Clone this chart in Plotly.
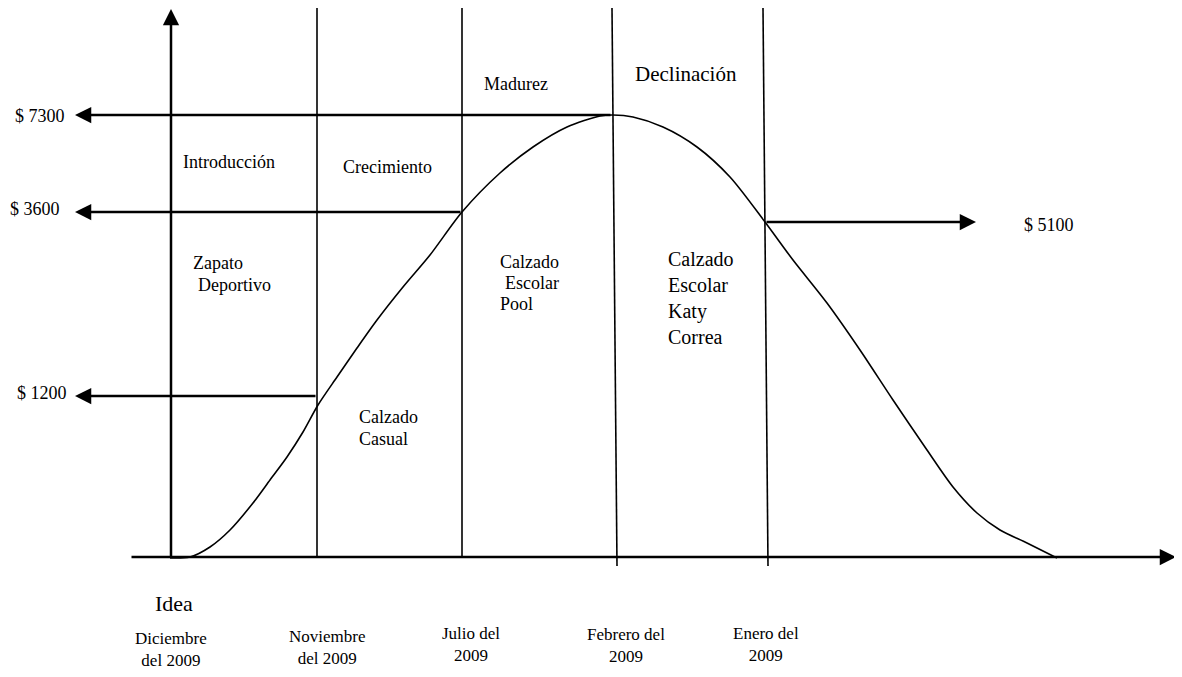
import plotly.graph_objects as go

# ---- data (diagram coordinates: x to the right, y downward, in canvas units) ----
curve_x = [170, 190, 210, 230, 253, 270, 287, 303, 318, 337, 357, 377, 403, 430, 462,
           500, 533, 567, 600, 613, 633, 663, 697, 730, 765, 793, 827, 860, 893,
           927, 953, 977, 1000, 1027, 1057]
curve_y = [558, 557, 547, 530, 503, 480, 457, 432, 405, 377, 348, 320, 287, 255, 212,
           173, 147, 127, 116, 115, 117, 127, 147, 177, 222, 260, 303, 350, 400,
           450, 487, 513, 530, 543, 558]

baseline_y = 557
yaxis_x = 171
stage_top_x = [317, 462, 612, 763]
stage_bottom_x = [317, 462, 617, 768]
stage_bottom_y = [557, 557, 566, 566]

price_labels = ["$ 7300", "$ 3600", "$ 1200"]
price_y = [115, 212, 396]
price_label_x = [13, 8, 15]
price_label_y = [116, 209, 393]
price_line_end_x = [612, 462, 317]

right_label = "$ 5100"
right_y = 222

stage_names = ["Introducción", "Crecimiento", "Madurez", "Declinación"]
period_labels = ["Diciembre<br>del 2009", "Noviembre<br>del 2009", "Julio del<br>2009",
                 "Febrero del<br>2009", "Enero del<br>2009"]
period_x = [171, 327, 471, 626, 766]
period_y = [649, 647, 644, 645, 644]

FONT = "Liberation Serif, Times New Roman, serif"
BLACK = "#000000"

fig = go.Figure()

# product life-cycle curve
fig.add_trace(go.Scatter(x=curve_x, y=curve_y, mode="lines", line_shape="spline",
                         line=dict(color=BLACK, width=1.6, smoothing=0.8),
                         hoverinfo="skip", showlegend=False))

# stage boundary lines
for xt, xb, yb in zip(stage_top_x, stage_bottom_x, stage_bottom_y):
    fig.add_shape(type="line", x0=xt, y0=8, x1=xb, y1=yb,
                  line=dict(color=BLACK, width=1.6), xref="x", yref="y")

annotations = []

def arrow(tip_x, tip_y, tail_x, tail_y, width=2.5):
    annotations.append(dict(x=tip_x, y=tip_y, ax=tail_x, ay=tail_y, xref="x", yref="y",
                            axref="x", ayref="y", text="", showarrow=True,
                            arrowhead=2, arrowsize=1.3, arrowwidth=width,
                            arrowcolor=BLACK, standoff=0, startstandoff=0))

# axes as arrows
arrow(yaxis_x, 9, yaxis_x, baseline_y + 2)
arrow(1176, baseline_y, 130, baseline_y)

# price arrows pointing left
for y, xe in zip(price_y, price_line_end_x):
    arrow(75, y, xe, y)

# right arrow
arrow(976, right_y, 765, right_y)

def text(t, x, y, size=18, xanchor="center", align="center"):
    annotations.append(dict(x=x, y=y, xref="x", yref="y", text=t, showarrow=False,
                            xanchor=xanchor, yanchor="middle", align=align,
                            font=dict(family=FONT, size=size, color=BLACK)))

# price labels
for lab, x, y in zip(price_labels, price_label_x, price_label_y):
    text(lab, x, y, xanchor="left")
text(right_label, 1022, right_y + 3, xanchor="left")

# stage names
text(stage_names[0], 229, 162)
text(stage_names[1], 387, 167)
text(stage_names[2], 516, 84)
text(stage_names[3], 686, 74, size=21)

# products
text("Zapato", 191, 263, xanchor="left")
text("Deportivo", 196, 285, xanchor="left")
text("Calzado", 357, 417, xanchor="left")
text("Casual", 357, 439, xanchor="left")
text("Calzado", 498, 262, xanchor="left")
text("Escolar", 503, 283, xanchor="left")
text("Pool", 498, 304, xanchor="left")
text("Calzado<br>Escolar<br>Katy<br>Correa", 666, 298, size=20, xanchor="left", align="left")

# idea & periods
text("Idea", 174, 603, size=22)
for lab, x, y in zip(period_labels, period_x, period_y):
    text(lab, x, y, size=17)

# the page adds an 8px body margin; shift the canvas so diagram units equal page pixels
fig.update_layout(
    width=1174, height=669,
    margin=dict(l=0, r=0, t=0, b=0),
    paper_bgcolor="white", plot_bgcolor="white",
    xaxis=dict(range=[8, 1182], visible=False, fixedrange=True),
    yaxis=dict(range=[677, 8], visible=False, fixedrange=True),
    annotations=annotations,
    showlegend=False,
)

fig.write_html("out.html")
